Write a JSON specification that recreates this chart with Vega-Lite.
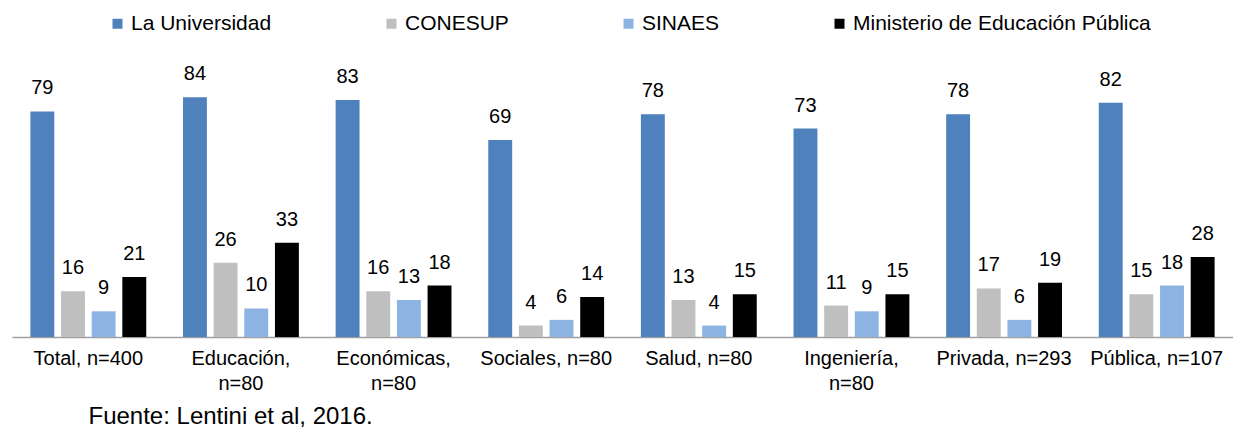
{
  "$schema": "https://vega.github.io/schema/vega-lite/v6.json",
  "autosize": "none",
  "width": 1221,
  "height": 257,
  "padding": {"left": 12, "top": 80, "right": 0, "bottom": 91},
  "background": "white",
  "config": {"font": "Liberation Sans", "view": {"stroke": null}},
  "data": {"values": [
    {"cat": "Total, n=400", "serie": "La Universidad", "v": 79},
    {"cat": "Total, n=400", "serie": "CONESUP", "v": 16},
    {"cat": "Total, n=400", "serie": "SINAES", "v": 9},
    {"cat": "Total, n=400", "serie": "Ministerio de Educación Pública", "v": 21},
    {"cat": "Educación,|n=80", "serie": "La Universidad", "v": 84},
    {"cat": "Educación,|n=80", "serie": "CONESUP", "v": 26},
    {"cat": "Educación,|n=80", "serie": "SINAES", "v": 10},
    {"cat": "Educación,|n=80", "serie": "Ministerio de Educación Pública", "v": 33},
    {"cat": "Económicas,|n=80", "serie": "La Universidad", "v": 83},
    {"cat": "Económicas,|n=80", "serie": "CONESUP", "v": 16},
    {"cat": "Económicas,|n=80", "serie": "SINAES", "v": 13},
    {"cat": "Económicas,|n=80", "serie": "Ministerio de Educación Pública", "v": 18},
    {"cat": "Sociales, n=80", "serie": "La Universidad", "v": 69},
    {"cat": "Sociales, n=80", "serie": "CONESUP", "v": 4},
    {"cat": "Sociales, n=80", "serie": "SINAES", "v": 6},
    {"cat": "Sociales, n=80", "serie": "Ministerio de Educación Pública", "v": 14},
    {"cat": "Salud, n=80", "serie": "La Universidad", "v": 78},
    {"cat": "Salud, n=80", "serie": "CONESUP", "v": 13},
    {"cat": "Salud, n=80", "serie": "SINAES", "v": 4},
    {"cat": "Salud, n=80", "serie": "Ministerio de Educación Pública", "v": 15},
    {"cat": "Ingeniería,|n=80", "serie": "La Universidad", "v": 73},
    {"cat": "Ingeniería,|n=80", "serie": "CONESUP", "v": 11},
    {"cat": "Ingeniería,|n=80", "serie": "SINAES", "v": 9},
    {"cat": "Ingeniería,|n=80", "serie": "Ministerio de Educación Pública", "v": 15},
    {"cat": "Privada, n=293", "serie": "La Universidad", "v": 78},
    {"cat": "Privada, n=293", "serie": "CONESUP", "v": 17},
    {"cat": "Privada, n=293", "serie": "SINAES", "v": 6},
    {"cat": "Privada, n=293", "serie": "Ministerio de Educación Pública", "v": 19},
    {"cat": "Pública, n=107", "serie": "La Universidad", "v": 82},
    {"cat": "Pública, n=107", "serie": "CONESUP", "v": 15},
    {"cat": "Pública, n=107", "serie": "SINAES", "v": 18},
    {"cat": "Pública, n=107", "serie": "Ministerio de Educación Pública", "v": 28}
  ]},
  "encoding": {
    "x": {
      "field": "cat", "type": "nominal", "sort": null,
      "scale": {"paddingInner": 0, "paddingOuter": 0},
      "axis": {
        "title": "Fuente: Lentini et al, 2016.",
        "titleX": 76, "titleY": 86, "titleAlign": "left", "titleBaseline": "alphabetic",
        "titleAnchor": "start",
        "titleFontSize": 24, "titleFontWeight": "normal", "titleColor": "#000000",
        "labelExpr": "split(datum.label, '|')",
        "labelAngle": 0, "labelFontSize": 20, "labelColor": "#000000",
        "labelPadding": 11, "labelLineHeight": 25, "labelLimit": 300,
        "ticks": false, "domainColor": "#A0A0A0", "domainWidth": 1.5
      }
    },
    "xOffset": {
      "field": "serie", "type": "nominal",
      "sort": ["La Universidad", "CONESUP", "SINAES", "Ministerio de Educación Pública"],
      "scale": {"paddingInner": 0.22, "paddingOuter": 0.6}
    },
    "y": {
      "field": "v", "type": "quantitative",
      "scale": {"domain": [0, 90], "nice": false},
      "axis": null
    }
  },
  "layer": [
    {
      "mark": {"type": "bar"},
      "encoding": {
        "color": {
          "field": "serie", "type": "nominal",
          "scale": {
            "domain": ["La Universidad", "CONESUP", "SINAES", "Ministerio de Educación Pública"],
            "range": ["#4F81BD", "#BFBFBF", "#8DB3E2", "#000000"]
          },
          "legend": {
            "title": null, "orient": "none", "direction": "horizontal",
            "legendX": 95, "legendY": -67,
            "symbolType": "square", "symbolSize": 100, "symbolStrokeWidth": 0,
            "labelFontSize": 21, "labelColor": "#000000", "labelOffset": 3,
            "columnPadding": 109, "labelLimit": 400
          }
        }
      }
    },
    {
      "mark": {"type": "text", "baseline": "alphabetic", "dy": -17, "fontSize": 20, "color": "#000000"},
      "encoding": {"text": {"field": "v", "type": "quantitative"}}
    }
  ]
}
